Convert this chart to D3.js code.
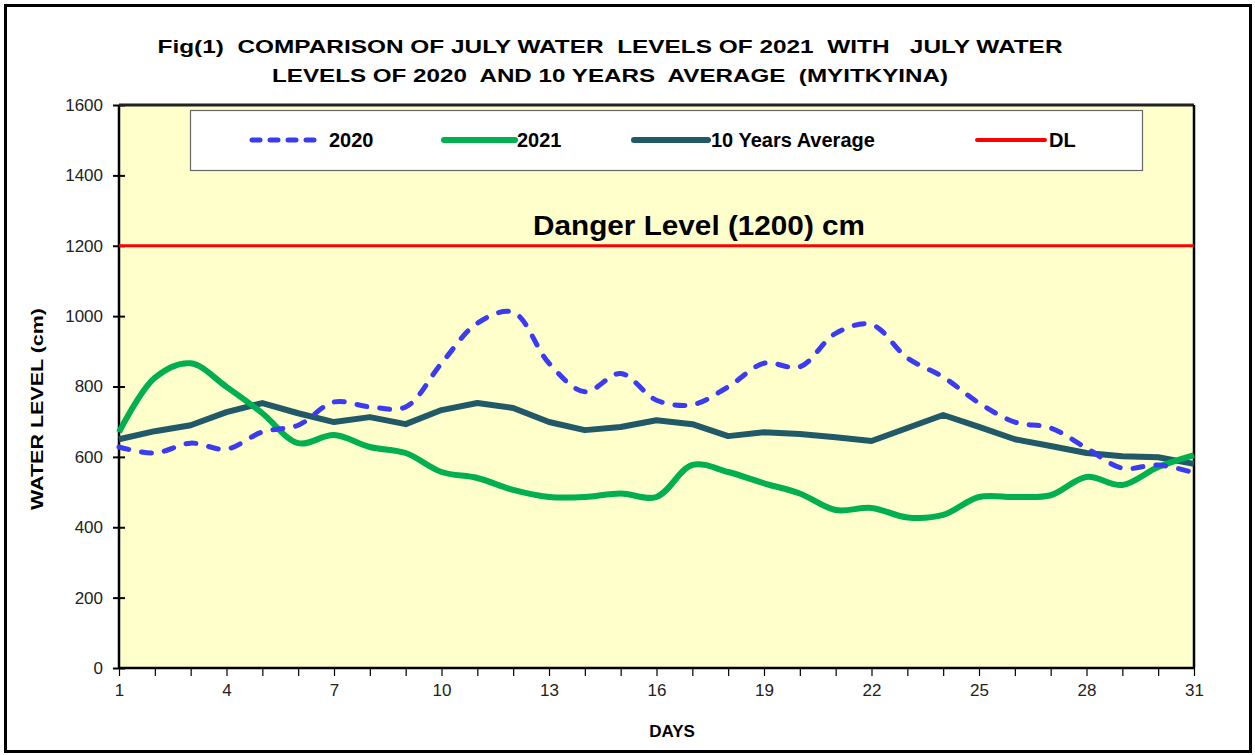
<!DOCTYPE html>
<html><head><meta charset="utf-8">
<script src="https://cdn.jsdelivr.net/npm/d3@7"></script>
<style>body{margin:0;background:#fff}svg{display:block}text{font-family:"Liberation Sans",Arial,sans-serif;white-space:pre}</style>
</head><body>
<script>
const days = d3.range(1, 32);
const xTickLabels = [1,4,7,10,13,16,19,22,25,28,31];
const yTickLabels = [0,200,400,600,800,1000,1200,1400,1600];
const series2020 = [628,611,639,622,671,690,756,742,742,866,980,1011,866,785,837,761,748,799,866,856,951,976,881,827,753,699,682,625,568,577,555];
const series2021 = [670,825,866,799,724,639,662,628,611,557,540,506,486,486,496,486,577,557,525,496,449,455,428,435,486,486,491,543,520,571,605];
const seriesAvg = [650,673,690,727,753,724,699,713,693,733,753,739,699,676,685,704,693,659,670,665,656,645,682,719,685,650,631,611,602,599,580];
const dangerLevel = 1200;
const legendLabels = ["2020","2021","10 Years Average","DL"];

const W=1255,H=755;
const svg=d3.select("body").append("svg").attr("width",W).attr("height",H);
svg.append("rect").attr("x",5.5).attr("y",5.5).attr("width",1245).attr("height",746).attr("fill","#fff").attr("stroke","#000").attr("stroke-width",3);

const L=119,R=1194,T=105,B=668;
const x=d3.scaleLinear().domain([1,31]).range([L,R]);
const y=d3.scaleLinear().domain([0,1600]).range([B,T]);

svg.append("rect").attr("x",L).attr("y",T).attr("width",R-L).attr("height",B-T).attr("fill","#FFFFCC");

// title
svg.append("text").attr("x",610).attr("y",53).attr("text-anchor","middle").attr("font-size",19).attr("font-weight","bold")
  .attr("textLength",905).attr("lengthAdjust","spacingAndGlyphs")
  .text("Fig(1)  COMPARISON OF JULY WATER  LEVELS OF 2021  WITH   JULY WATER");
svg.append("text").attr("x",610).attr("y",82).attr("text-anchor","middle").attr("font-size",19).attr("font-weight","bold")
  .attr("textLength",676).attr("lengthAdjust","spacingAndGlyphs")
  .text("LEVELS OF 2020  AND 10 YEARS  AVERAGE  (MYITKYINA)");

// axes
const yAxis=d3.axisLeft(y).tickValues(yTickLabels).tickFormat(d3.format("d")).tickSize(6).tickPadding(10);
const gy=svg.append("g").attr("transform",`translate(${L},0)`).call(yAxis);
gy.selectAll(".tick line").attr("x2",-6).attr("x1",6).attr("stroke","#000").attr("stroke-width",2);
gy.select(".domain").remove();
gy.selectAll("text").attr("font-size",17).attr("fill","#222").attr("font-family","Liberation Sans, Arial");

const xAxis=d3.axisBottom(x).tickValues(days).tickSize(8).tickFormat(d=>xTickLabels.includes(d)?d:"").tickPadding(8);
const gx=svg.append("g").attr("transform",`translate(0,${B})`).call(xAxis);
gx.select(".domain").remove();
gx.selectAll(".tick line").attr("stroke","#000").attr("stroke-width",1.2);
gx.selectAll("text").attr("font-size",17).attr("fill","#222").attr("font-family","Liberation Sans, Arial");

// plot border
svg.append("line").attr("x1",L).attr("x2",R).attr("y1",B).attr("y2",B).attr("stroke","#000").attr("stroke-width",2.5);
svg.append("line").attr("x1",L).attr("x2",L).attr("y1",T).attr("y2",B).attr("stroke","#000").attr("stroke-width",2.5);
svg.append("line").attr("x1",L).attr("x2",R).attr("y1",T).attr("y2",T).attr("stroke","#222").attr("stroke-width",3);
svg.append("line").attr("x1",R).attr("x2",R).attr("y1",T).attr("y2",B).attr("stroke","#000").attr("stroke-width",2.5);

// axis titles
svg.append("text").attr("transform",`translate(43,409) rotate(-90)`).attr("text-anchor","middle")
  .attr("font-size",17).attr("font-weight","bold").attr("textLength",202).attr("lengthAdjust","spacingAndGlyphs").text("WATER LEVEL (cm)");
svg.append("text").attr("x",672).attr("y",737).attr("text-anchor","middle").attr("font-size",17).attr("font-weight","bold").text("DAYS");

// danger line
svg.append("line").attr("x1",x(1)).attr("x2",x(31)).attr("y1",y(dangerLevel)).attr("y2",y(dangerLevel)).attr("stroke","#FF0000").attr("stroke-width",3);
svg.append("text").attr("x",699).attr("y",235).attr("text-anchor","middle").attr("font-size",28).attr("font-weight","bold")
  .attr("font-family","Open Sans, Liberation Sans").attr("textLength",332).attr("lengthAdjust","spacingAndGlyphs")
  .text("Danger Level (1200) cm");

const smooth=d3.line().x((d,i)=>x(days[i])).y(d=>y(d)).curve(d3.curveCatmullRom.alpha(0.5));
const straight=d3.line().x((d,i)=>x(days[i])).y(d=>y(d));

svg.append("path").attr("d",straight(seriesAvg)).attr("fill","none").attr("stroke","#215968").attr("stroke-width",6).attr("stroke-linejoin","round");
svg.append("path").attr("d",smooth(series2021)).attr("fill","none").attr("stroke","#00B050").attr("stroke-width",6).attr("stroke-linejoin","round");
svg.append("path").attr("d",smooth(series2020)).attr("fill","none").attr("stroke","#3B3BF2").attr("stroke-width",5)
  .attr("stroke-dasharray","10 13").attr("stroke-linecap","round");

// legend
svg.append("rect").attr("x",190.5).attr("y",110.5).attr("width",952).attr("height",60).attr("fill","#fff").attr("stroke","#666").attr("stroke-width",1.2);
const legItems=[
 {label:legendLabels[0],x1:252,x2:322,tx:329,color:"#3B3BF2",dash:"8 10",w:5},
 {label:legendLabels[1],x1:444,x2:515,tx:517,color:"#00B050",dash:null,w:6},
 {label:legendLabels[2],x1:634,x2:708,tx:711,color:"#215968",dash:null,w:6},
 {label:legendLabels[3],x1:977,x2:1045,tx:1049,color:"#FF0000",dash:null,w:4}
];
legItems.forEach(it=>{
  const ln=svg.append("line").attr("x1",it.x1).attr("x2",it.x2).attr("y1",140).attr("y2",140).attr("stroke",it.color).attr("stroke-width",it.w).attr("stroke-linecap","round");
  if(it.dash) ln.attr("stroke-dasharray",it.dash);
  svg.append("text").attr("x",it.tx).attr("y",147).attr("font-size",20).attr("font-weight","bold").text(it.label);
});
</script>
</body></html>
